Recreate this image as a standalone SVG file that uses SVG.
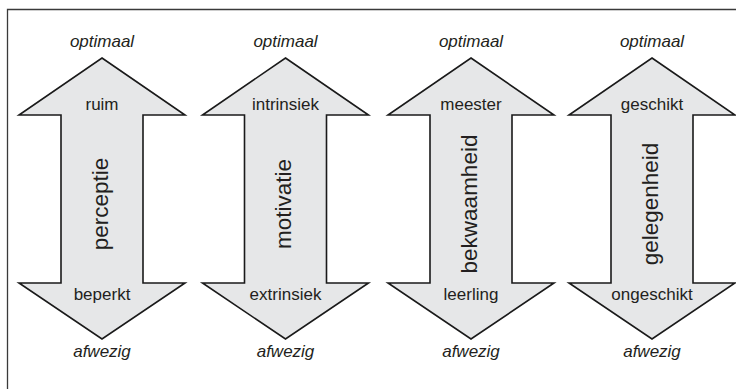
<svg xmlns="http://www.w3.org/2000/svg" width="736" height="389" viewBox="0 0 736 389">
  <defs>
    <style>
      .frame { fill: none; stroke: #3a3a3a; stroke-width: 1.3; }
      .arrow { fill: #e6e7e8; stroke: #1a1a1a; stroke-width: 1.6; stroke-linejoin: miter; }
      .t { font-family: "Liberation Sans", Arial, Helvetica, sans-serif; fill: #231f20; text-anchor: middle; }
      .end { font-size: 17px; font-style: italic; }
      .lvl { font-size: 17px; }
      .name { font-size: 22.5px; }
    </style>
    <!-- double-headed arrow centred on x = 0 -->
    <path id="dbl" d="M0,58 L83,115 L41,115 L41,283 L83,283 L0,339 L-83,283 L-41,283 L-41,115 L-83,115 Z"/>
  </defs>
  <rect width="736" height="389" fill="#ffffff"/>
  <path class="frame" d="M7.5,389 V9.5 H736"/>

  <g id="perceptie" transform="translate(102,0)">
    <use href="#dbl" class="arrow"/>
    <text class="t end" x="0" y="47">optimaal</text>
    <text class="t lvl" x="0" y="110">ruim</text>
    <text class="t name" transform="translate(5.5,204) rotate(-90)">perceptie</text>
    <text class="t lvl" x="0" y="300">beperkt</text>
    <text class="t end" x="0" y="357">afwezig</text>
  </g>

  <g id="motivatie" transform="translate(285.5,0)">
    <use href="#dbl" class="arrow"/>
    <text class="t end" x="0" y="47">optimaal</text>
    <text class="t lvl" x="0" y="110">intrinsiek</text>
    <text class="t name" transform="translate(5.5,204) rotate(-90)">motivatie</text>
    <text class="t lvl" x="0" y="300">extrinsiek</text>
    <text class="t end" x="0" y="357">afwezig</text>
  </g>

  <g id="bekwaamheid" transform="translate(471,0)">
    <use href="#dbl" class="arrow"/>
    <text class="t end" x="0" y="47">optimaal</text>
    <text class="t lvl" x="0" y="110">meester</text>
    <text class="t name" transform="translate(5.5,204) rotate(-90)">bekwaamheid</text>
    <text class="t lvl" x="0" y="300">leerling</text>
    <text class="t end" x="0" y="357">afwezig</text>
  </g>

  <g id="gelegenheid" transform="translate(652,0)">
    <use href="#dbl" class="arrow"/>
    <text class="t end" x="0" y="47">optimaal</text>
    <text class="t lvl" x="0" y="110">geschikt</text>
    <text class="t name" transform="translate(5.5,204) rotate(-90)">gelegenheid</text>
    <text class="t lvl" x="0" y="300">ongeschikt</text>
    <text class="t end" x="0" y="357">afwezig</text>
  </g>

  <g id="connectors"/>
</svg>
